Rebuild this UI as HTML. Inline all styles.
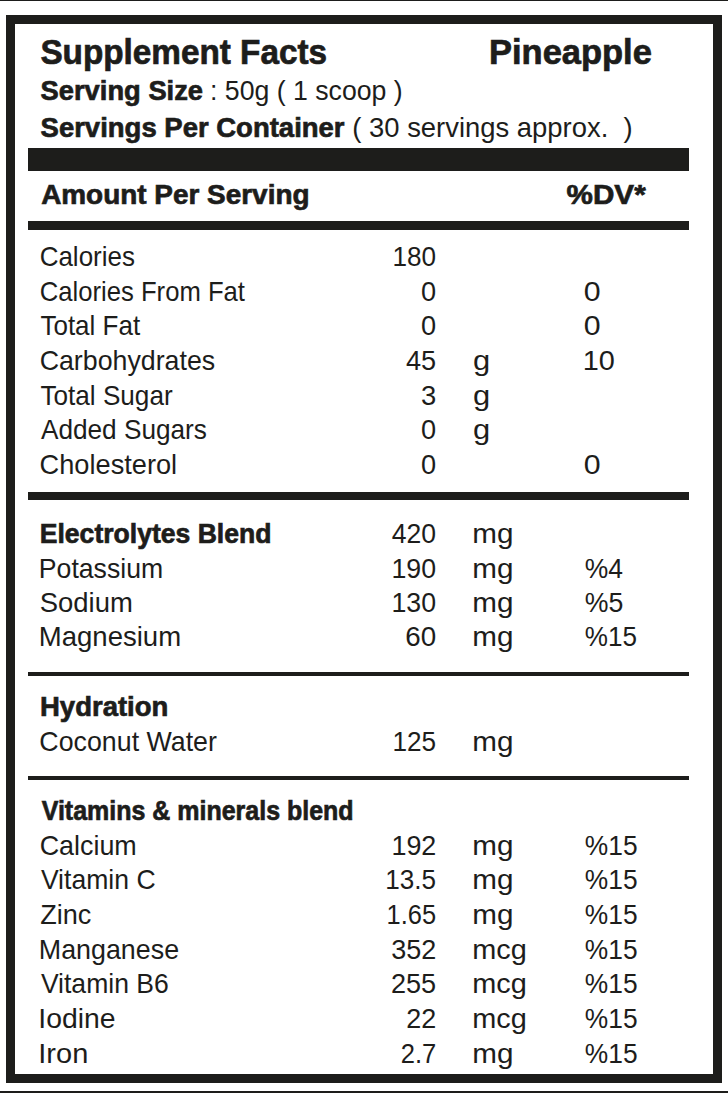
<!DOCTYPE html>
<html><head><meta charset="utf-8"><style>
html,body{margin:0;padding:0;background:#fff;width:728px;height:1093px;overflow:hidden}
svg{display:block}
text{font-family:"Liberation Sans",sans-serif;fill:#1d1d1b;white-space:pre}
</style></head><body>
<svg width="728" height="1093" viewBox="0 0 728 1093">
<rect x="0" y="0" width="728" height="1" fill="#1d1d1b"/>
<rect x="0" y="1091" width="728" height="2" fill="#1d1d1b"/>
<rect x="10.5" y="19.5" width="707" height="1059" fill="none" stroke="#1d1d1b" stroke-width="9"/>
<rect x="28" y="148" width="661" height="23" fill="#1d1d1b"/>
<rect x="28" y="221" width="661" height="9" fill="#1d1d1b"/>
<rect x="28" y="492" width="661" height="8" fill="#1d1d1b"/>
<rect x="28" y="672" width="661" height="4" fill="#1d1d1b"/>
<rect x="28" y="776" width="661" height="4" fill="#1d1d1b"/>
<g xml:space="preserve">
<text x="40.39" y="64.00" font-size="34.3" font-weight="700" textLength="286.62" lengthAdjust="spacingAndGlyphs" stroke="#1d1d1b" stroke-width="0.7">Supplement Facts</text>
<text x="489.04" y="63.50" font-size="34.3" font-weight="700" textLength="162.78" lengthAdjust="spacingAndGlyphs" stroke="#1d1d1b" stroke-width="0.7">Pineapple</text>
<text x="40.56" y="99.60" font-size="28" font-weight="700" textLength="162.52" lengthAdjust="spacingAndGlyphs" stroke="#1d1d1b" stroke-width="0.7">Serving Size</text>
<text x="210.07" y="99.60" font-size="28.5" font-weight="400" textLength="192.59" lengthAdjust="spacingAndGlyphs">: 50g ( 1 scoop )</text>
<text x="40.56" y="136.90" font-size="28" font-weight="700" textLength="304.01" lengthAdjust="spacingAndGlyphs" stroke="#1d1d1b" stroke-width="0.7">Servings Per Container</text>
<text x="352.30" y="136.90" font-size="28.5" font-weight="400" textLength="280.40" lengthAdjust="spacingAndGlyphs">( 30 servings approx.  )</text>
<text x="41.15" y="203.80" font-size="28" font-weight="700" textLength="268.36" lengthAdjust="spacingAndGlyphs" stroke="#1d1d1b" stroke-width="0.7">Amount Per Serving</text>
<text x="566.61" y="203.80" font-size="28" font-weight="700" textLength="79.07" lengthAdjust="spacingAndGlyphs" stroke="#1d1d1b" stroke-width="0.7">%DV*</text>
<text x="39.68" y="265.80" font-size="27.8" font-weight="400" textLength="95.26" lengthAdjust="spacingAndGlyphs">Calories</text>
<text x="392.41" y="265.80" font-size="27.8" font-weight="400" textLength="43.61" lengthAdjust="spacingAndGlyphs">180</text>
<text x="39.70" y="301.00" font-size="27.8" font-weight="400" textLength="205.29" lengthAdjust="spacingAndGlyphs">Calories From Fat</text>
<text x="420.94" y="301.00" font-size="27.8" font-weight="400" textLength="15.12" lengthAdjust="spacingAndGlyphs">0</text>
<text x="583.82" y="301.00" font-size="27.8" font-weight="400" textLength="16.87" lengthAdjust="spacingAndGlyphs">0</text>
<text x="40.43" y="334.80" font-size="27.8" font-weight="400" textLength="99.75" lengthAdjust="spacingAndGlyphs">Total Fat</text>
<text x="420.94" y="334.80" font-size="27.8" font-weight="400" textLength="15.12" lengthAdjust="spacingAndGlyphs">0</text>
<text x="583.82" y="334.80" font-size="27.8" font-weight="400" textLength="16.87" lengthAdjust="spacingAndGlyphs">0</text>
<text x="39.64" y="369.70" font-size="27.8" font-weight="400" textLength="175.53" lengthAdjust="spacingAndGlyphs">Carbohydrates</text>
<text x="405.98" y="369.70" font-size="27.8" font-weight="400" textLength="30.16" lengthAdjust="spacingAndGlyphs">45</text>
<text x="473.10" y="369.70" font-size="27.8" font-weight="400" textLength="17.19" lengthAdjust="spacingAndGlyphs">g</text>
<text x="582.80" y="369.70" font-size="27.8" font-weight="400" textLength="32.13" lengthAdjust="spacingAndGlyphs">10</text>
<text x="40.43" y="404.80" font-size="27.8" font-weight="400" textLength="132.20" lengthAdjust="spacingAndGlyphs">Total Sugar</text>
<text x="420.96" y="404.80" font-size="27.8" font-weight="400" textLength="15.25" lengthAdjust="spacingAndGlyphs">3</text>
<text x="473.10" y="404.80" font-size="27.8" font-weight="400" textLength="17.19" lengthAdjust="spacingAndGlyphs">g</text>
<text x="40.95" y="438.90" font-size="27.8" font-weight="400" textLength="166.00" lengthAdjust="spacingAndGlyphs">Added Sugars</text>
<text x="420.94" y="438.90" font-size="27.8" font-weight="400" textLength="15.12" lengthAdjust="spacingAndGlyphs">0</text>
<text x="473.10" y="438.90" font-size="27.8" font-weight="400" textLength="17.19" lengthAdjust="spacingAndGlyphs">g</text>
<text x="39.62" y="473.50" font-size="27.8" font-weight="400" textLength="137.50" lengthAdjust="spacingAndGlyphs">Cholesterol</text>
<text x="420.94" y="473.50" font-size="27.8" font-weight="400" textLength="15.12" lengthAdjust="spacingAndGlyphs">0</text>
<text x="583.82" y="473.50" font-size="27.8" font-weight="400" textLength="16.87" lengthAdjust="spacingAndGlyphs">0</text>
<text x="39.77" y="542.60" font-size="27.7" font-weight="700" textLength="231.63" lengthAdjust="spacingAndGlyphs" stroke="#1d1d1b" stroke-width="0.7">Electrolytes Blend</text>
<text x="391.69" y="542.60" font-size="27.8" font-weight="400" textLength="44.35" lengthAdjust="spacingAndGlyphs">420</text>
<text x="472.23" y="542.60" font-size="27.8" font-weight="400" textLength="41.18" lengthAdjust="spacingAndGlyphs">mg</text>
<text x="38.82" y="577.70" font-size="27.8" font-weight="400" textLength="124.34" lengthAdjust="spacingAndGlyphs">Potassium</text>
<text x="391.46" y="577.70" font-size="27.8" font-weight="400" textLength="44.58" lengthAdjust="spacingAndGlyphs">190</text>
<text x="472.23" y="577.70" font-size="27.8" font-weight="400" textLength="41.18" lengthAdjust="spacingAndGlyphs">mg</text>
<text x="584.86" y="577.70" font-size="27.8" font-weight="400" textLength="38.22" lengthAdjust="spacingAndGlyphs">%4</text>
<text x="39.75" y="611.80" font-size="27.8" font-weight="400" textLength="93.06" lengthAdjust="spacingAndGlyphs">Sodium</text>
<text x="391.46" y="611.80" font-size="27.8" font-weight="400" textLength="44.58" lengthAdjust="spacingAndGlyphs">130</text>
<text x="472.23" y="611.80" font-size="27.8" font-weight="400" textLength="41.18" lengthAdjust="spacingAndGlyphs">mg</text>
<text x="584.85" y="611.80" font-size="27.8" font-weight="400" textLength="38.57" lengthAdjust="spacingAndGlyphs">%5</text>
<text x="38.74" y="646.40" font-size="27.8" font-weight="400" textLength="142.38" lengthAdjust="spacingAndGlyphs">Magnesium</text>
<text x="405.19" y="646.40" font-size="27.8" font-weight="400" textLength="30.90" lengthAdjust="spacingAndGlyphs">60</text>
<text x="472.23" y="646.40" font-size="27.8" font-weight="400" textLength="41.18" lengthAdjust="spacingAndGlyphs">mg</text>
<text x="584.87" y="646.40" font-size="27.8" font-weight="400" textLength="52.23" lengthAdjust="spacingAndGlyphs">%15</text>
<text x="40.01" y="716.00" font-size="27.7" font-weight="700" textLength="128.34" lengthAdjust="spacingAndGlyphs" stroke="#1d1d1b" stroke-width="0.7">Hydration</text>
<text x="39.35" y="750.70" font-size="27.8" font-weight="400" textLength="177.59" lengthAdjust="spacingAndGlyphs">Coconut Water</text>
<text x="392.41" y="750.70" font-size="27.8" font-weight="400" textLength="43.69" lengthAdjust="spacingAndGlyphs">125</text>
<text x="472.23" y="750.70" font-size="27.8" font-weight="400" textLength="41.18" lengthAdjust="spacingAndGlyphs">mg</text>
<text x="41.68" y="819.70" font-size="27.5" font-weight="700" textLength="311.91" lengthAdjust="spacingAndGlyphs" stroke="#1d1d1b" stroke-width="0.7">Vitamins &amp; minerals blend</text>
<text x="39.63" y="854.80" font-size="27.8" font-weight="400" textLength="97.14" lengthAdjust="spacingAndGlyphs">Calcium</text>
<text x="391.45" y="854.80" font-size="27.8" font-weight="400" textLength="44.90" lengthAdjust="spacingAndGlyphs">192</text>
<text x="472.23" y="854.80" font-size="27.8" font-weight="400" textLength="41.18" lengthAdjust="spacingAndGlyphs">mg</text>
<text x="584.86" y="854.80" font-size="27.8" font-weight="400" textLength="52.75" lengthAdjust="spacingAndGlyphs">%15</text>
<text x="40.88" y="888.90" font-size="27.8" font-weight="400" textLength="114.72" lengthAdjust="spacingAndGlyphs">Vitamin C</text>
<text x="385.31" y="888.90" font-size="27.8" font-weight="400" textLength="50.78" lengthAdjust="spacingAndGlyphs">13.5</text>
<text x="472.23" y="888.90" font-size="27.8" font-weight="400" textLength="41.18" lengthAdjust="spacingAndGlyphs">mg</text>
<text x="584.86" y="888.90" font-size="27.8" font-weight="400" textLength="52.75" lengthAdjust="spacingAndGlyphs">%15</text>
<text x="40.14" y="923.90" font-size="27.8" font-weight="400" textLength="51.17" lengthAdjust="spacingAndGlyphs">Zinc</text>
<text x="386.56" y="923.90" font-size="27.8" font-weight="400" textLength="49.51" lengthAdjust="spacingAndGlyphs">1.65</text>
<text x="472.23" y="923.90" font-size="27.8" font-weight="400" textLength="41.18" lengthAdjust="spacingAndGlyphs">mg</text>
<text x="584.86" y="923.90" font-size="27.8" font-weight="400" textLength="52.75" lengthAdjust="spacingAndGlyphs">%15</text>
<text x="38.80" y="958.90" font-size="27.8" font-weight="400" textLength="140.29" lengthAdjust="spacingAndGlyphs">Manganese</text>
<text x="391.27" y="958.90" font-size="27.8" font-weight="400" textLength="45.09" lengthAdjust="spacingAndGlyphs">352</text>
<text x="472.28" y="958.90" font-size="27.8" font-weight="400" textLength="54.58" lengthAdjust="spacingAndGlyphs">mcg</text>
<text x="584.86" y="958.90" font-size="27.8" font-weight="400" textLength="52.75" lengthAdjust="spacingAndGlyphs">%15</text>
<text x="40.88" y="992.70" font-size="27.8" font-weight="400" textLength="127.88" lengthAdjust="spacingAndGlyphs">Vitamin B6</text>
<text x="390.94" y="992.70" font-size="27.8" font-weight="400" textLength="45.20" lengthAdjust="spacingAndGlyphs">255</text>
<text x="472.28" y="992.70" font-size="27.8" font-weight="400" textLength="54.58" lengthAdjust="spacingAndGlyphs">mcg</text>
<text x="584.86" y="992.70" font-size="27.8" font-weight="400" textLength="52.75" lengthAdjust="spacingAndGlyphs">%15</text>
<text x="38.38" y="1027.70" font-size="27.8" font-weight="400" textLength="77.28" lengthAdjust="spacingAndGlyphs">Iodine</text>
<text x="406.34" y="1027.70" font-size="27.8" font-weight="400" textLength="30.01" lengthAdjust="spacingAndGlyphs">22</text>
<text x="472.28" y="1027.70" font-size="27.8" font-weight="400" textLength="54.58" lengthAdjust="spacingAndGlyphs">mcg</text>
<text x="584.86" y="1027.70" font-size="27.8" font-weight="400" textLength="52.75" lengthAdjust="spacingAndGlyphs">%15</text>
<text x="38.32" y="1062.70" font-size="27.8" font-weight="400" textLength="49.96" lengthAdjust="spacingAndGlyphs">Iron</text>
<text x="400.71" y="1062.70" font-size="27.8" font-weight="400" textLength="35.57" lengthAdjust="spacingAndGlyphs">2.7</text>
<text x="472.23" y="1062.70" font-size="27.8" font-weight="400" textLength="41.18" lengthAdjust="spacingAndGlyphs">mg</text>
<text x="584.86" y="1062.70" font-size="27.8" font-weight="400" textLength="52.75" lengthAdjust="spacingAndGlyphs">%15</text>
</g>
</svg>
</body></html>
